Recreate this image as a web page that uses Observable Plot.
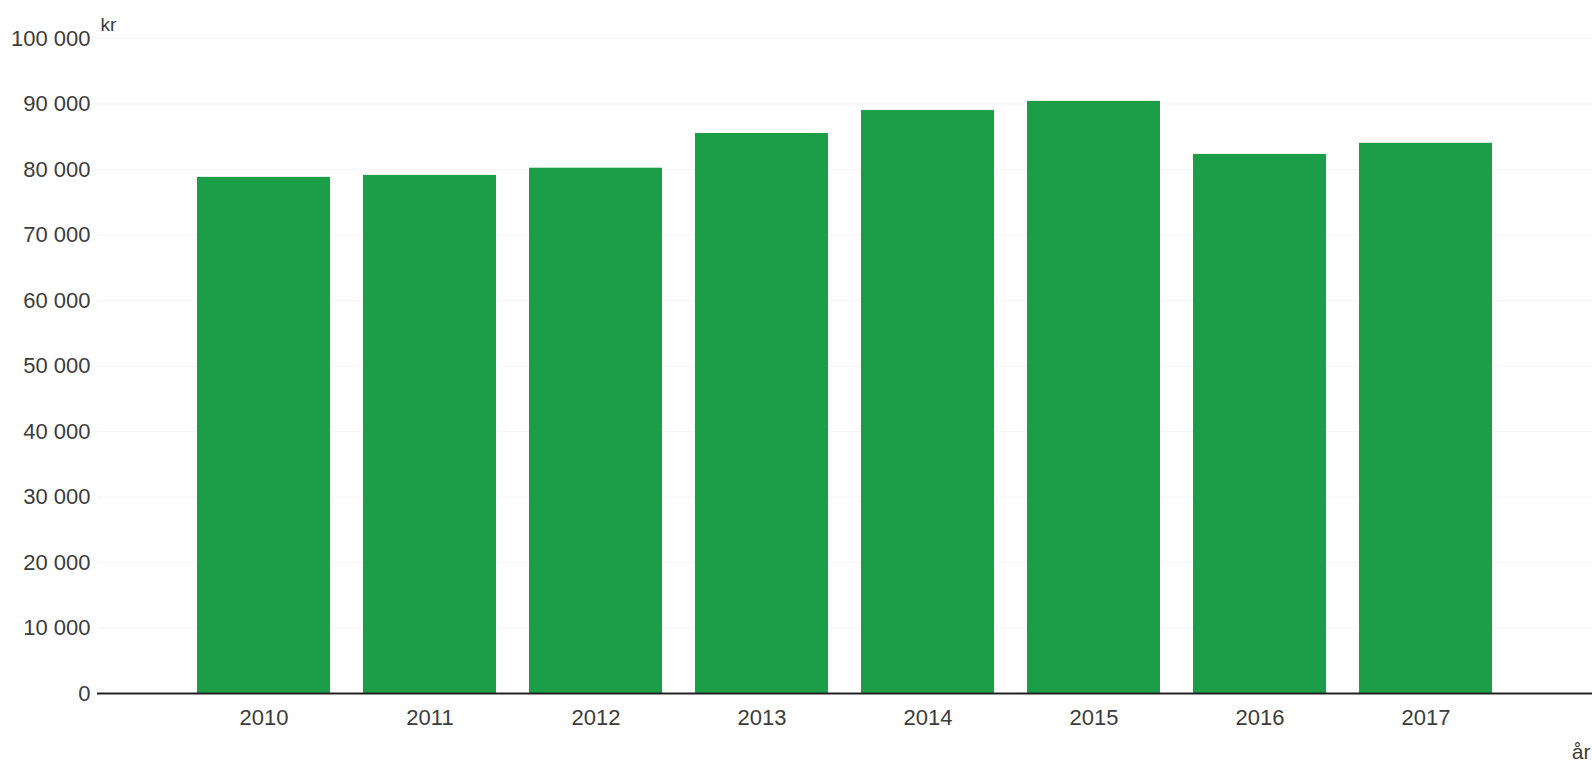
<!DOCTYPE html>
<html>
<head>
<meta charset="utf-8">
<script src="https://cdn.jsdelivr.net/npm/d3@7"></script>
<script src="https://cdn.jsdelivr.net/npm/@observablehq/plot@0.6"></script>
<style>
  html, body { margin: 0; padding: 0; background: #fff; }
  #chart svg { display: block; }
</style>
</head>
<body>
<div id="chart"></div>
<script>
const years = ["2010", "2011", "2012", "2013", "2014", "2015", "2016", "2017"];
const values = [78800, 79100, 80200, 85500, 89000, 90400, 82300, 84000];
const yTicks = [0, 10000, 20000, 30000, 40000, 50000, 60000, 70000, 80000, 90000, 100000];
const yUnit = "kr";
const xUnit = "år";

const data = years.map((y, i) => ({year: y, value: values[i]}));
const fmt = d => d3.format(",")(d).replace(/,/g, " ");

const chart = Plot.plot({
  width: 1592,
  height: 765,
  marginLeft: 97,
  marginRight: 0,
  marginTop: 38,
  marginBottom: 72,
  style: {fontFamily: "'Liberation Sans', Arial, sans-serif", fontSize: "22px", color: "#3c3c3c", background: "#fff"},
  x: {domain: years, paddingInner: 0.2, paddingOuter: 0.6, tickSize: 0, tickPadding: 16, label: null},
  y: {domain: [0, 100000], ticks: yTicks, tickFormat: fmt, tickSize: 0, tickPadding: 7, label: null},
  marks: [
    Plot.gridY(yTicks, {stroke: "#eeeeee", strokeOpacity: 0.5}),
    Plot.barY(data, {x: "year", y: "value", fill: "#1c9d48"}),
    Plot.ruleY([0], {stroke: "#222", strokeWidth: 2}),
    Plot.text([yUnit], {frameAnchor: "top-left", dx: 3, dy: -21, textAnchor: "start", fontSize: 19}),
    Plot.text([xUnit], {frameAnchor: "bottom-right", dx: -2, dy: 65, textAnchor: "end", fontSize: 21})
  ]
});
document.getElementById("chart").appendChild(chart);
</script>
</body>
</html>
